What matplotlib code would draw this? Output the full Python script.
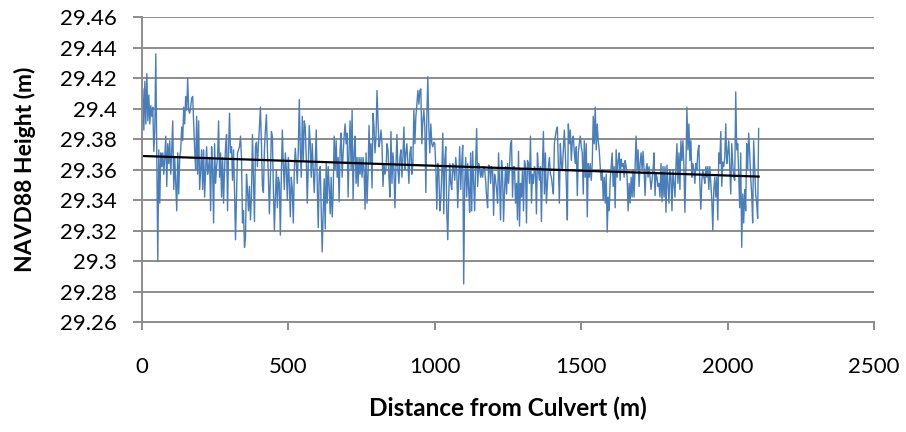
import numpy as np
import matplotlib
matplotlib.use("Agg")
import matplotlib.pyplot as plt

height_mm_above_29m = [
    413, 386, 418, 390, 423, 392, 409, 390, 402, 395, 401, 372, 386, 436, 366, 300, 373, 338, 371, 362,
    371, 357, 368, 382, 349, 377, 364, 379, 357, 373, 392, 347, 368, 351, 333, 371, 344, 368, 373, 388,
    379, 401, 390, 408, 399, 420, 399, 397, 401, 407, 408, 390, 373, 360, 395, 357, 392, 347, 360, 373,
    347, 373, 342, 360, 375, 357, 362, 368, 333, 375, 360, 325, 377, 351, 362, 368, 392, 355, 371, 342,
    368, 338, 360, 375, 383, 333, 373, 397, 371, 375, 353, 373, 347, 314, 344, 371, 373, 375, 382, 368,
    325, 333, 309, 315, 357, 347, 333, 349, 327, 342,
    383, 355, 326, 375, 378, 362, 377, 388, 401, 377, 349, 345, 373, 386, 396, 373, 355, 331, 355, 385,
    382, 347, 320, 342, 360, 335, 355, 351, 317, 357, 386, 362, 347, 371, 360, 340, 368, 351, 329, 355,
    347, 325, 360, 374, 364, 351, 373, 406, 373, 355, 395, 366, 392, 388, 368, 338, 362, 389, 377, 355,
    377, 360, 345, 364, 386, 351, 322, 357, 362, 333, 306, 333, 354, 321, 364, 338, 362, 349, 331, 355,
    329, 344, 382, 360, 379, 355, 368, 339, 373, 384, 355, 371, 382, 390, 377, 384, 342, 373, 392, 360,
    399, 340, 371, 382, 351, 368, 349, 368, 357, 368, 355, 368, 360, 334, 371, 338, 357, 389, 364, 377,
    348, 397, 388, 371, 382, 412, 392, 375, 379, 386, 377, 349, 364, 357, 360, 377, 373, 355, 342, 385,
    351, 371, 360, 335, 362, 383, 360, 351, 368, 373, 355, 368, 388, 360, 371, 377, 364, 351, 371, 375,
    357, 364, 399, 377, 395, 403, 412, 403, 412, 413, 377, 392, 399, 388, 345, 395, 421, 388, 371, 390,
    377, 375, 378, 377, 362, 334, 364, 360, 333, 340, 357, 384, 331, 366, 375, 333, 314, 344, 364, 351,
    347, 364, 360, 353, 368, 360, 335, 355, 375, 347, 364, 376, 285, 351, 368, 342, 364, 347, 332, 371,
    333, 372, 351, 333, 364, 387, 349, 364, 360, 355, 360, 355, 362, 360, 353, 342, 335, 363, 362, 351,
    362, 360, 330, 357, 353, 347, 338, 371, 351, 327, 366, 357, 326, 347, 362, 344, 364, 351, 362, 377,
    379, 342, 362, 362, 338, 351, 327, 372, 323, 351, 342, 360, 333, 366, 362, 325, 366, 364, 351, 382,
    338, 357, 351, 362, 360, 331, 371, 360, 353, 362, 326, 362, 385, 344, 371, 338, 351, 362, 368, 357,
    355, 349, 344, 377, 382, 386, 388, 362, 338, 377, 364, 360, 373, 386, 371, 351, 327, 390, 377, 386,
    366, 379, 382, 371, 364, 375, 343, 371, 377, 382, 375, 371, 344, 379, 355, 377, 329, 364, 355, 364,
    353, 364, 395, 377, 401, 373, 390, 379, 373, 362, 353, 360, 340, 355, 338, 357, 319, 342, 333, 353,
    362, 371, 349, 362, 335, 373, 355, 366, 371, 353, 367, 362, 364, 355, 366, 362, 355, 333, 351, 338,
    355, 342, 360, 342, 362, 382, 360, 373, 349, 364, 371, 360, 372, 360, 343, 360, 364, 355, 362, 355,
    347, 353, 360, 371, 343, 357, 355, 349, 351, 342, 364, 339, 362, 342, 362, 332, 363, 351, 338, 360,
    355, 333, 360, 351, 342, 362, 377, 351, 371, 347, 379, 366, 379, 362, 332, 362, 401, 373, 390, 366,
    379, 355, 364, 360, 351, 364, 360, 372, 376, 351, 334, 353, 360, 355, 351, 362, 355, 362, 347, 362,
    351, 340, 320, 347, 355, 342, 355, 327, 371, 364, 385, 349, 365, 362, 368, 390, 364, 371, 379, 362,
    344, 377, 364, 355, 353, 411, 373, 377, 355, 335, 371, 309, 344, 325, 347, 333, 377, 360, 384, 371,
    355, 344, 325, 379, 362, 344, 338, 328, 387,
]
first_distance = 3.0
last_distance = 2106.0

x_ticks = [0, 500, 1000, 1500, 2000, 2500]
y_ticks = [29.26, 29.28, 29.30, 29.32, 29.34, 29.36, 29.38, 29.40, 29.42, 29.44, 29.46]
y_tick_labels = ["29.26", "29.28", "29.3", "29.32", "29.34", "29.36", "29.38", "29.4", "29.42", "29.44", "29.46"]

heights = 29.0 + np.array(height_mm_above_29m) / 1000.0
distance = np.linspace(first_distance, last_distance, len(heights))

# linear trendline, as the spreadsheet would add it
coeffs = np.polyfit(distance, heights, 1)
trend = np.poly1d(coeffs)
trend_x = np.array([distance[0], distance[-1]])

plt.rcParams["font.family"] = ["Lato", "DejaVu Sans"]

fig = plt.figure(figsize=(9.06, 4.32), dpi=100)
ax = fig.add_axes([0.1567, 0.2546, 0.808, 0.7054])

grid_gray = "#8c8c8c"
ax.set_axisbelow(True)
ax.grid(axis="y", color=grid_gray, linewidth=1.4)

ax.plot(distance, heights, color="#4a7ebb", linewidth=1.0)
ax.plot(trend_x, trend(trend_x), color="black", linewidth=1.6)

ax.set_xlim(0, 2500)
ax.set_ylim(29.26, 29.46)
ax.set_xticks(x_ticks)
ax.set_yticks(y_ticks)
ax.set_yticklabels(y_tick_labels)

for side in ["top", "right"]:
    ax.spines[side].set_visible(False)
for side in ["left", "bottom"]:
    ax.spines[side].set_color(grid_gray)
    ax.spines[side].set_linewidth(1.4)

ax.tick_params(axis="both", direction="out", width=1.4, color=grid_gray,
               labelsize=16, labelcolor="black")
ax.tick_params(axis="x", length=5.5, pad=20)
ax.tick_params(axis="y", length=6.5, pad=11.5)

ax.set_xlabel("Distance from Culvert (m)", fontsize=17.5, fontweight="bold", labelpad=14)
ax.set_ylabel("NAVD88 Height (m)", fontsize=16.5, fontweight="bold", labelpad=17)

fig.savefig("out.png", dpi=100, facecolor="white")
